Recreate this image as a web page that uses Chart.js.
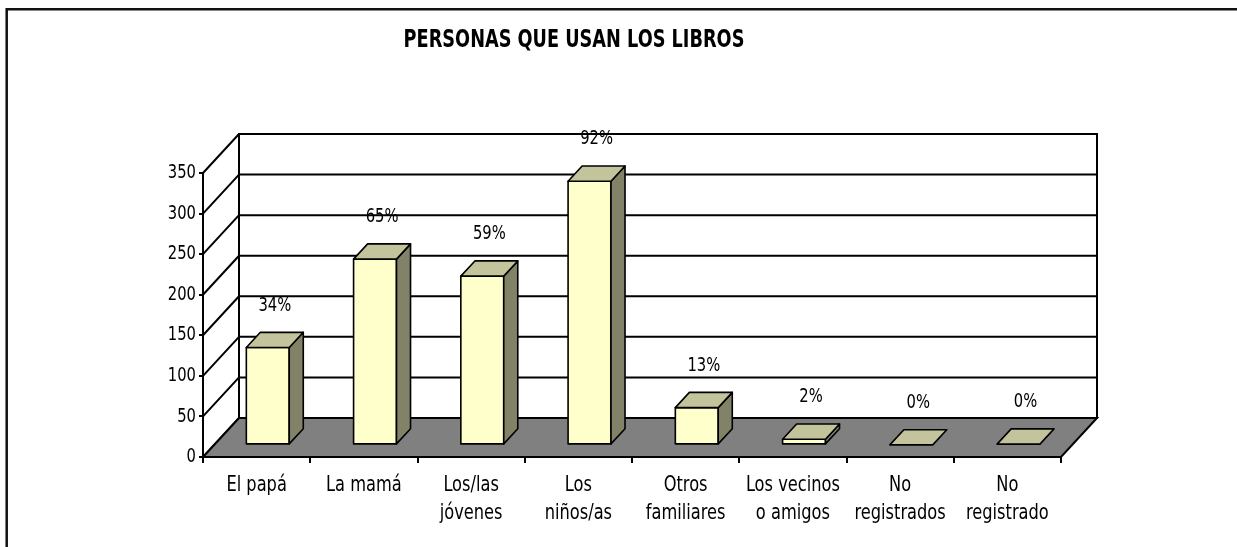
<!DOCTYPE html>
<html lang="es">
<head>
<meta charset="utf-8">
<title>Personas que usan los libros</title>
<script src="https://cdn.jsdelivr.net/npm/chart.js@4.4.1/dist/chart.umd.min.js"></script>
<style>
    html, body { margin: 0; padding: 0; background: #fff; }
    canvas { display: block; }
</style>
</head>
<body>
<canvas id="librosChart" width="1237" height="547"></canvas>
<script>
// --- Data ---
const categories = [
    'El papá',
    'La mamá',
    ['Los/las', 'jóvenes'],
    ['Los', 'niños/as'],
    ['Otros', 'familiares'],
    ['Los vecinos', 'o amigos'],
    ['No', 'registrados'],
    ['No', 'registrado']
];
const personas = [120, 229, 208, 325, 46, 7, 0, 1];
const percentLabels = ['34%', '65%', '59%', '92%', '13%', '2%', '0%', '0%'];
const yTicks = [0, 50, 100, 150, 200, 250, 300, 350];

document.addEventListener('DOMContentLoaded', () => {

    // --- Look constants ---
    const FONT = "'DejaVu Sans Condensed', 'DejaVu Sans', sans-serif";
    const SQUEEZE = 0.82;     // narrow the text like the original Arial Narrow
    const DEPTH_X = 36;       // floor depth, to the right
    const DEPTH_Y = 39;       // floor depth, upward
    const BAR_FRONT = 0.31;   // where the column starts in the depth
    const BAR_BACK = 0.70;    // where it ends
    const LABEL_GAP = 27;
    const FRONT_COLOR = '#FFFFCC';
    const TOP_COLOR = '#C4C49C';
    const SIDE_COLOR = '#828268';
    const FLOOR_COLOR = '#808080';

    const poly = (ctx, pts, fill) => {
        ctx.beginPath();
        ctx.moveTo(pts[0][0], pts[0][1]);
        pts.slice(1).forEach(p => ctx.lineTo(p[0], p[1]));
        ctx.closePath();
        if (fill) { ctx.fillStyle = fill; ctx.fill(); }
        ctx.stroke();
    };

    // text squeezed horizontally around its anchor
    const narrowText = (ctx, text, x, y, font, align) => {
        ctx.save();
        ctx.font = font;
        ctx.fillStyle = '#000';
        ctx.textAlign = align;
        ctx.textBaseline = 'middle';
        ctx.translate(x, y);
        ctx.scale(SQUEEZE, 1);
        ctx.fillText(text, 0, 0);
        ctx.restore();
    };

    // Excel-like 3D box: walls, floor, columns and labels
    const depthPlugin = {
        id: 'depth3d',
        beforeDraw(chart) {
            const ctx = chart.ctx;
            ctx.save();
            ctx.fillStyle = '#fff';
            ctx.fillRect(0, 0, chart.width, chart.height);
            // frame (only top and left visible)
            ctx.strokeStyle = '#111';
            ctx.lineWidth = 2.5;
            ctx.beginPath();
            ctx.moveTo(chart.width, 9.3);
            ctx.lineTo(6.7, 9.3);
            ctx.lineTo(6.7, chart.height);
            ctx.stroke();
            ctx.restore();
            narrowText(ctx, 'PERSONAS QUE USAN LOS LIBROS', 574, 41, `bold 24px ${FONT}`, 'center');
        },
        beforeDatasetsDraw(chart) {
            const ctx = chart.ctx;
            const { left, right, top, bottom } = chart.chartArea;
            const y = chart.scales.y;
            ctx.save();
            ctx.strokeStyle = '#000';
            ctx.lineWidth = 2;

            // back wall
            ctx.fillStyle = '#fff';
            ctx.fillRect(left + DEPTH_X, top - DEPTH_Y, right - left, bottom - top);
            ctx.strokeRect(left + DEPTH_X, top - DEPTH_Y, right - left, bottom - top);

            // gridlines on the back wall + side wall diagonals
            y.ticks.forEach(t => {
                const py = y.getPixelForValue(t.value);
                ctx.beginPath();
                ctx.moveTo(left + DEPTH_X, py - DEPTH_Y);
                ctx.lineTo(right + DEPTH_X, py - DEPTH_Y);
                ctx.moveTo(left, py);
                ctx.lineTo(left + DEPTH_X, py - DEPTH_Y);
                ctx.stroke();
            });

            // floor
            poly(ctx, [
                [left, bottom], [right, bottom],
                [right + DEPTH_X, bottom - DEPTH_Y], [left + DEPTH_X, bottom - DEPTH_Y]
            ], FLOOR_COLOR);
            ctx.restore();
        },
        afterDatasetsDraw(chart) {
            const ctx = chart.ctx;
            const meta = chart.getDatasetMeta(0);
            const fx = DEPTH_X * BAR_FRONT, fy = DEPTH_Y * BAR_FRONT;
            const bdx = DEPTH_X * (BAR_BACK - BAR_FRONT), bdy = DEPTH_Y * (BAR_BACK - BAR_FRONT);
            ctx.save();
            ctx.strokeStyle = '#000';
            ctx.lineWidth = 1.6;
            ctx.lineJoin = 'round';

            meta.data.forEach((bar, i) => {
                const { x, y, base, width } = bar.getProps(['x', 'y', 'base', 'width'], true);
                const x0 = x - width / 2 + fx;
                const x1 = x0 + width;
                const yTop = y - fy;
                const yBase = base - fy;

                if (yBase - yTop > 0.5) {
                    // front
                    poly(ctx, [[x0, yTop], [x1, yTop], [x1, yBase], [x0, yBase]], FRONT_COLOR);
                    // side
                    poly(ctx, [[x1, yTop], [x1 + bdx, yTop - bdy], [x1 + bdx, yBase - bdy], [x1, yBase]], SIDE_COLOR);
                }
                // top
                poly(ctx, [[x0, yTop], [x1, yTop], [x1 + bdx, yTop - bdy], [x0 + bdx, yTop - bdy]], TOP_COLOR);

                // percent label
                narrowText(ctx, percentLabels[i], (x0 + x1) / 2 + bdx / 2, yTop - bdy - LABEL_GAP,
                    `20px ${FONT}`, 'center');
            });
            ctx.restore();
        },
        afterDraw(chart) {
            const ctx = chart.ctx;
            const { left, bottom } = chart.chartArea;
            const xs = chart.scales.x, ys = chart.scales.y;

            // value axis labels
            ys.ticks.forEach(t => {
                narrowText(ctx, String(t.value), left - 7, ys.getPixelForValue(t.value), `20px ${FONT}`, 'right');
            });

            // category labels, one or two lines
            chart.data.labels.forEach((lbl, i) => {
                const lines = Array.isArray(lbl) ? lbl : [lbl];
                const cx = xs.getPixelForValue(i);
                lines.forEach((line, k) => {
                    narrowText(ctx, line, cx, bottom + 28 + k * 28.5, `22px ${FONT}`, 'center');
                });
            });
        }
    };

    // --- Chart ---
    const ctx = document.getElementById('librosChart').getContext('2d');
    new Chart(ctx, {
        type: 'bar',
        data: {
            labels: categories,
            datasets: [{
                data: personas,
                backgroundColor: 'rgba(0,0,0,0)',
                borderWidth: 0,
                categoryPercentage: 1,
                barPercentage: 0.4
            }]
        },
        options: {
            responsive: false,
            devicePixelRatio: 1,
            animation: false,
            events: [],
            layout: { padding: { left: 0, right: 176, top: 173, bottom: 0 } },
            plugins: {
                legend: { display: false },
                title: { display: false },
                tooltip: { enabled: false }
            },
            scales: {
                x: {
                    afterFit: scale => { scale.height = 90; },
                    grid: {
                        offset: true,
                        drawOnChartArea: false,
                        drawTicks: true,
                        tickLength: 6,
                        color: '#000',
                        lineWidth: 2
                    },
                    border: { display: true, color: '#000', width: 2 },
                    ticks: { display: false, autoSkip: false }
                },
                y: {
                    min: 0,
                    max: 350,
                    afterFit: scale => { scale.width = 203; },
                    afterBuildTicks: scale => { scale.ticks = yTicks.map(v => ({ value: v })); },
                    grid: {
                        drawOnChartArea: false,
                        drawTicks: true,
                        tickLength: 4,
                        color: '#000',
                        lineWidth: 2
                    },
                    border: { display: true, color: '#000', width: 2 },
                    ticks: { display: false }
                }
            }
        },
        plugins: [depthPlugin]
    });

});
</script>
</body>
</html>
